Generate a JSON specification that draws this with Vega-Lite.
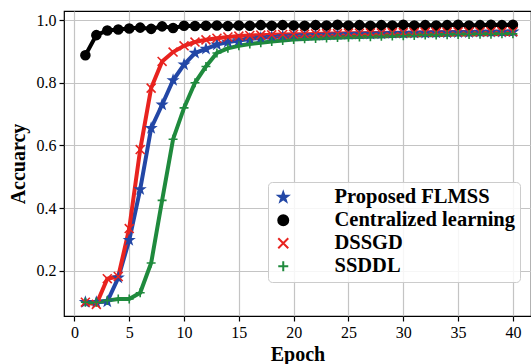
{
  "$schema": "https://vega.github.io/schema/vega-lite/v6.json",
  "width": 467,
  "height": 305,
  "autosize": "none",
  "padding": {"left": 64, "top": 11, "right": 0, "bottom": 48},
  "background": "white",
  "config": {
    "view": {"stroke": "black", "strokeWidth": 1.2},
    "font": "Liberation Serif",
    "axis": {
      "labelFont": "Liberation Serif", "labelFontSize": 16, "labelColor": "black",
      "titleFont": "Liberation Serif", "titleFontSize": 20, "titleFontWeight": "bold", "titleColor": "black",
      "domain": false, "tickColor": "black", "tickSize": 5, "tickWidth": 1.2,
      "gridColor": "#c4c4c4", "gridWidth": 1.2, "labelPadding": 3
    }
  },
  "data": {"values": [
    {"e":1,"s":"Proposed FLMSS","v":0.100},{"e":2,"s":"Proposed FLMSS","v":0.100},{"e":3,"s":"Proposed FLMSS","v":0.102},{"e":4,"s":"Proposed FLMSS","v":0.178},{"e":5,"s":"Proposed FLMSS","v":0.298},{"e":6,"s":"Proposed FLMSS","v":0.460},{"e":7,"s":"Proposed FLMSS","v":0.655},{"e":8,"s":"Proposed FLMSS","v":0.730},{"e":9,"s":"Proposed FLMSS","v":0.808},{"e":10,"s":"Proposed FLMSS","v":0.858},
    {"e":11,"s":"Proposed FLMSS","v":0.895},{"e":12,"s":"Proposed FLMSS","v":0.908},{"e":13,"s":"Proposed FLMSS","v":0.922},{"e":14,"s":"Proposed FLMSS","v":0.930},{"e":15,"s":"Proposed FLMSS","v":0.935},{"e":16,"s":"Proposed FLMSS","v":0.940},{"e":17,"s":"Proposed FLMSS","v":0.943},{"e":18,"s":"Proposed FLMSS","v":0.946},{"e":19,"s":"Proposed FLMSS","v":0.948},{"e":20,"s":"Proposed FLMSS","v":0.950},
    {"e":21,"s":"Proposed FLMSS","v":0.951},{"e":22,"s":"Proposed FLMSS","v":0.952},{"e":23,"s":"Proposed FLMSS","v":0.953},{"e":24,"s":"Proposed FLMSS","v":0.954},{"e":25,"s":"Proposed FLMSS","v":0.955},{"e":26,"s":"Proposed FLMSS","v":0.956},{"e":27,"s":"Proposed FLMSS","v":0.956},{"e":28,"s":"Proposed FLMSS","v":0.957},{"e":29,"s":"Proposed FLMSS","v":0.958},{"e":30,"s":"Proposed FLMSS","v":0.958},
    {"e":31,"s":"Proposed FLMSS","v":0.959},{"e":32,"s":"Proposed FLMSS","v":0.959},{"e":33,"s":"Proposed FLMSS","v":0.960},{"e":34,"s":"Proposed FLMSS","v":0.960},{"e":35,"s":"Proposed FLMSS","v":0.961},{"e":36,"s":"Proposed FLMSS","v":0.961},{"e":37,"s":"Proposed FLMSS","v":0.962},{"e":38,"s":"Proposed FLMSS","v":0.962},{"e":39,"s":"Proposed FLMSS","v":0.962},{"e":40,"s":"Proposed FLMSS","v":0.963},

    {"e":1,"s":"Centralized learning","v":0.888},{"e":2,"s":"Centralized learning","v":0.952},{"e":3,"s":"Centralized learning","v":0.967},{"e":4,"s":"Centralized learning","v":0.970},{"e":5,"s":"Centralized learning","v":0.973},{"e":6,"s":"Centralized learning","v":0.976},{"e":7,"s":"Centralized learning","v":0.972},{"e":8,"s":"Centralized learning","v":0.980},{"e":9,"s":"Centralized learning","v":0.975},{"e":10,"s":"Centralized learning","v":0.982},
    {"e":11,"s":"Centralized learning","v":0.981},{"e":12,"s":"Centralized learning","v":0.982},{"e":13,"s":"Centralized learning","v":0.983},{"e":14,"s":"Centralized learning","v":0.981},{"e":15,"s":"Centralized learning","v":0.983},{"e":16,"s":"Centralized learning","v":0.982},{"e":17,"s":"Centralized learning","v":0.984},{"e":18,"s":"Centralized learning","v":0.982},{"e":19,"s":"Centralized learning","v":0.984},{"e":20,"s":"Centralized learning","v":0.983},
    {"e":21,"s":"Centralized learning","v":0.982},{"e":22,"s":"Centralized learning","v":0.984},{"e":23,"s":"Centralized learning","v":0.983},{"e":24,"s":"Centralized learning","v":0.985},{"e":25,"s":"Centralized learning","v":0.983},{"e":26,"s":"Centralized learning","v":0.984},{"e":27,"s":"Centralized learning","v":0.982},{"e":28,"s":"Centralized learning","v":0.984},{"e":29,"s":"Centralized learning","v":0.983},{"e":30,"s":"Centralized learning","v":0.985},
    {"e":31,"s":"Centralized learning","v":0.983},{"e":32,"s":"Centralized learning","v":0.984},{"e":33,"s":"Centralized learning","v":0.983},{"e":34,"s":"Centralized learning","v":0.984},{"e":35,"s":"Centralized learning","v":0.985},{"e":36,"s":"Centralized learning","v":0.983},{"e":37,"s":"Centralized learning","v":0.984},{"e":38,"s":"Centralized learning","v":0.985},{"e":39,"s":"Centralized learning","v":0.984},{"e":40,"s":"Centralized learning","v":0.985},

    {"e":1,"s":"DSSGD","v":0.100},{"e":2,"s":"DSSGD","v":0.093},{"e":3,"s":"DSSGD","v":0.175},{"e":4,"s":"DSSGD","v":0.182},{"e":5,"s":"DSSGD","v":0.335},{"e":6,"s":"DSSGD","v":0.587},{"e":7,"s":"DSSGD","v":0.783},{"e":8,"s":"DSSGD","v":0.868},{"e":9,"s":"DSSGD","v":0.898},{"e":10,"s":"DSSGD","v":0.918},
    {"e":11,"s":"DSSGD","v":0.930},{"e":12,"s":"DSSGD","v":0.937},{"e":13,"s":"DSSGD","v":0.942},{"e":14,"s":"DSSGD","v":0.946},{"e":15,"s":"DSSGD","v":0.949},{"e":16,"s":"DSSGD","v":0.951},{"e":17,"s":"DSSGD","v":0.952},{"e":18,"s":"DSSGD","v":0.953},{"e":19,"s":"DSSGD","v":0.954},{"e":20,"s":"DSSGD","v":0.955},
    {"e":21,"s":"DSSGD","v":0.955},{"e":22,"s":"DSSGD","v":0.956},{"e":23,"s":"DSSGD","v":0.957},{"e":24,"s":"DSSGD","v":0.957},{"e":25,"s":"DSSGD","v":0.958},{"e":26,"s":"DSSGD","v":0.958},{"e":27,"s":"DSSGD","v":0.959},{"e":28,"s":"DSSGD","v":0.959},{"e":29,"s":"DSSGD","v":0.960},{"e":30,"s":"DSSGD","v":0.960},
    {"e":31,"s":"DSSGD","v":0.960},{"e":32,"s":"DSSGD","v":0.961},{"e":33,"s":"DSSGD","v":0.961},{"e":34,"s":"DSSGD","v":0.961},{"e":35,"s":"DSSGD","v":0.962},{"e":36,"s":"DSSGD","v":0.962},{"e":37,"s":"DSSGD","v":0.962},{"e":38,"s":"DSSGD","v":0.963},{"e":39,"s":"DSSGD","v":0.963},{"e":40,"s":"DSSGD","v":0.963},

    {"e":1,"s":"SSDDL","v":0.100},{"e":2,"s":"SSDDL","v":0.100},{"e":3,"s":"SSDDL","v":0.105},{"e":4,"s":"SSDDL","v":0.110},{"e":5,"s":"SSDDL","v":0.110},{"e":6,"s":"SSDDL","v":0.130},{"e":7,"s":"SSDDL","v":0.225},{"e":8,"s":"SSDDL","v":0.425},{"e":9,"s":"SSDDL","v":0.620},{"e":10,"s":"SSDDL","v":0.720},
    {"e":11,"s":"SSDDL","v":0.800},{"e":12,"s":"SSDDL","v":0.852},{"e":13,"s":"SSDDL","v":0.895},{"e":14,"s":"SSDDL","v":0.910},{"e":15,"s":"SSDDL","v":0.918},{"e":16,"s":"SSDDL","v":0.924},{"e":17,"s":"SSDDL","v":0.928},{"e":18,"s":"SSDDL","v":0.932},{"e":19,"s":"SSDDL","v":0.935},{"e":20,"s":"SSDDL","v":0.938},
    {"e":21,"s":"SSDDL","v":0.940},{"e":22,"s":"SSDDL","v":0.941},{"e":23,"s":"SSDDL","v":0.943},{"e":24,"s":"SSDDL","v":0.944},{"e":25,"s":"SSDDL","v":0.945},{"e":26,"s":"SSDDL","v":0.946},{"e":27,"s":"SSDDL","v":0.947},{"e":28,"s":"SSDDL","v":0.948},{"e":29,"s":"SSDDL","v":0.949},{"e":30,"s":"SSDDL","v":0.950},
    {"e":31,"s":"SSDDL","v":0.951},{"e":32,"s":"SSDDL","v":0.952},{"e":33,"s":"SSDDL","v":0.952},{"e":34,"s":"SSDDL","v":0.953},{"e":35,"s":"SSDDL","v":0.954},{"e":36,"s":"SSDDL","v":0.954},{"e":37,"s":"SSDDL","v":0.955},{"e":38,"s":"SSDDL","v":0.955},{"e":39,"s":"SSDDL","v":0.956},{"e":40,"s":"SSDDL","v":0.956}
  ]},
  "encoding": {
    "x": {"field": "e", "type": "quantitative",
      "scale": {"domain": [-0.95, 41.65], "nice": false, "zero": false},
      "axis": {"values": [0,5,10,15,20,25,30,35,40], "title": "Epoch", "titlePadding": 4, "labelFlush": false}},
    "y": {"field": "v", "type": "quantitative",
      "scale": {"domain": [0.056, 1.029], "nice": false, "zero": false},
      "axis": {"values": [0.2,0.4,0.6,0.8,1.0], "format": ".1f", "title": "Accuarcy", "titlePadding": 8}},
    "color": {"field": "s", "type": "nominal",
      "scale": {"domain": ["Proposed FLMSS","Centralized learning","DSSGD","SSDDL"], "range": ["#2347a6","#000000","#e8231f","#1f8a3d"]},
      "legend": {
        "orient": "none", "legendX": 204, "legendY": 171,
        "title": null,
        "labelFont": "Liberation Serif", "labelFontSize": 20.5, "labelFontWeight": "bold", "labelColor": "black",
        "labelLimit": 300,
        "symbolSize": 100, "symbolStrokeWidth": 2,
        "labelOffset": 41, "rowPadding": 2, "padding": 5,
        "fillColor": "rgba(255,255,255,0.85)", "strokeColor": "#cccccc", "cornerRadius": 4
      }}
  },
  "layer": [
    {"mark": {"type": "line", "strokeWidth": 4}},
    {"mark": {"type": "point", "filled": true, "strokeWidth": 1.6, "opacity": 1, "size": 80},
     "encoding": {
       "shape": {"field": "s", "type": "nominal",
         "scale": {"domain": ["Proposed FLMSS","Centralized learning","DSSGD","SSDDL"], "range": ["M0,-1L0.235,-0.324L0.951,-0.309L0.38,0.124L0.588,0.809L0,0.4L-0.588,0.809L-0.38,0.124L-0.951,-0.309L-0.235,-0.324Z","circle","M-1,-1L1,1M-1,1L1,-1","M-1,0H1M0,-1V1"]},
         "legend": null},
       "stroke": {"field": "s", "type": "nominal",
         "scale": {"domain": ["Proposed FLMSS","Centralized learning","DSSGD","SSDDL"], "range": ["#2347a6","#000000","#e8231f","#1f8a3d"]},
         "legend": null}
     }}
  ]
}
